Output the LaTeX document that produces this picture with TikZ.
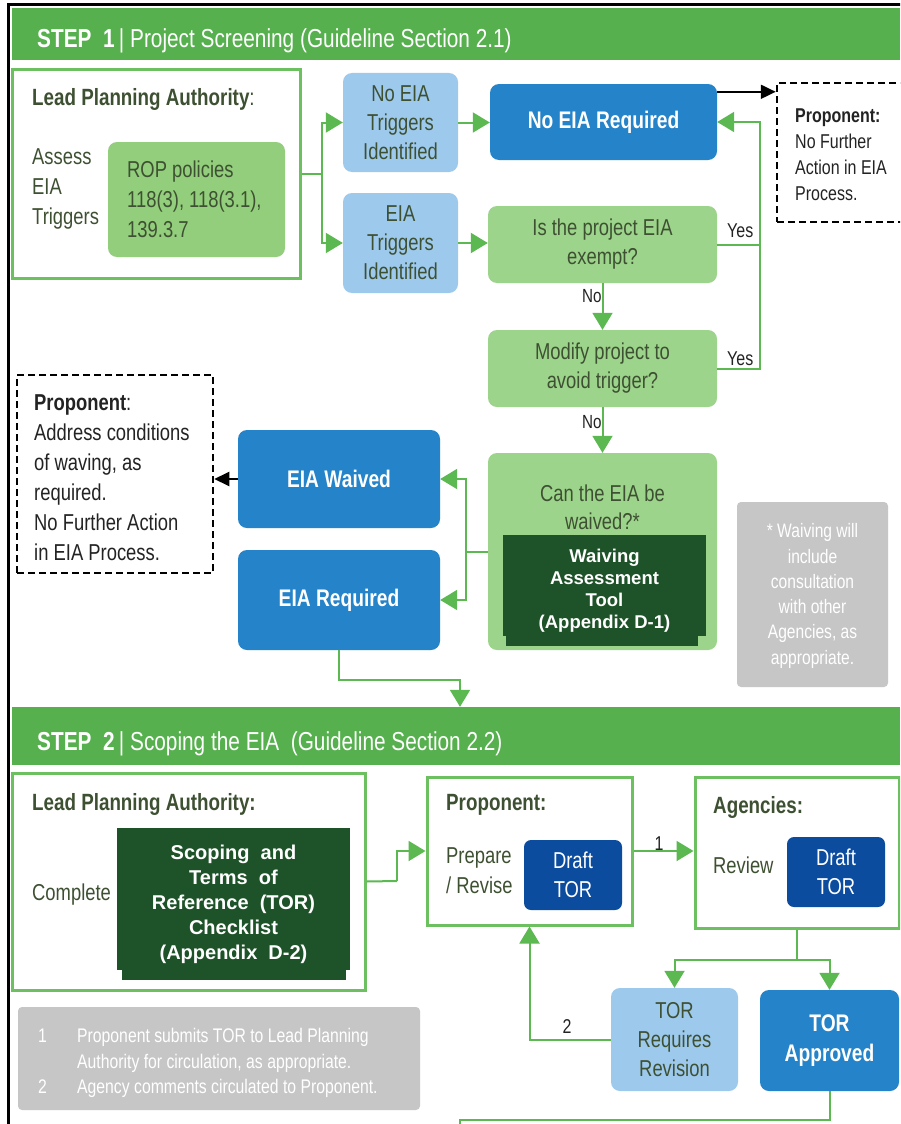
\documentclass[tikz,border=0pt]{standalone}
\usepackage{fontspec}
\setmainfont{Liberation Sans}[FakeStretch=0.8]
\newfontfamily\widefont{Liberation Sans}
\usetikzlibrary{arrows.meta,calc}
\newcommand{\fs}[2]{\fontsize{#1}{#2}\selectfont}
\definecolor{bannergreen}{RGB}{86,176,78}
\definecolor{outlinegreen}{RGB}{108,192,95}
\definecolor{conngreen}{RGB}{92,184,80}
\definecolor{lightgreen}{RGB}{157,212,139}
\definecolor{ropgreen}{RGB}{146,206,124}
\definecolor{lightblue}{RGB}{157,201,237}
\definecolor{midblue}{RGB}{36,131,201}
\definecolor{darkblue}{RGB}{12,76,158}
\definecolor{darkgreen}{RGB}{30,82,40}
\definecolor{txtdark}{RGB}{62,80,50}
\definecolor{txtblack}{RGB}{35,35,35}
\definecolor{notegray}{RGB}{198,198,198}
\tikzset{
  bx/.style={rounded corners=9pt, inner sep=0pt, align=center},
  lbbox/.style={bx, fill=lightblue, text=txtdark, font=\fs{23}{29}},
  lgbox/.style={bx, fill=lightgreen, text=txtdark, font=\fs{23}{29}},
  bluebox/.style={bx, fill=midblue, text=white, font=\fs{24}{30}\bfseries},
  dbbox/.style={bx, rounded corners=7pt, fill=darkblue, text=white, font=\fs{23}{29}},
  dgbox/.style={inner sep=0pt, align=center, fill=darkgreen, text=white},
  frame/.style={draw=outlinegreen, line width=3pt, inner sep=0pt},
  banner/.style={fill=bannergreen, inner sep=0pt, minimum width=888pt},
  bannertext/.style={text=white, font=\fs{26}{30}, inner sep=0pt},
  title/.style={text=txtdark, font=\fs{23.5}{30}\bfseries, inner sep=0pt},
  bodytxt/.style={text=txtdark, font=\fs{23}{30}, inner sep=0pt, align=left},
  dashbox/.style={draw=black, line width=2.5pt, dash pattern=on 7pt off 4pt, inner sep=0pt},
  dashtxt/.style={text=txtblack, inner sep=0pt, align=left},
  graynote/.style={fill=notegray, rounded corners=4pt, inner sep=0pt},
  notetxt/.style={text=white, inner sep=0pt},
  lbl/.style={text=txtblack, inner sep=0pt},
  gline/.style={draw=conngreen, line width=2pt},
  garrow/.style={gline, -{Triangle[length=17pt,width=20pt]}},
  barrow/.style={draw=black, line width=2pt, -{Triangle[length=15pt,width=14pt]}}
}
\begin{document}
\begin{tikzpicture}[x=1pt,y=-1pt]
\useasboundingbox (0,0) rectangle (900,1124);
\clip (0,0) rectangle (900,1124);
\fill[white] (0,0) rectangle (900,1124);
% outer frame
\draw[line width=3pt] (8,1130) -- (8,5) -- (905,5);

% ===== STEP 1 =====
\node[banner, minimum height=52pt] (b1) at (456,34) {};
\node[bannertext, anchor=base west] (b1t) at (37,48) {\textbf{STEP\ \ 1}\,|\ Project Screening (Guideline Section 2.1)};

\node[frame, minimum width=288pt, minimum height=208pt] (lpa1) at (156,174) {};
\node[title, anchor=base west] (lpa1t) at (32,105) {Lead Planning Authority\textmd{:}};
\node[bodytxt, anchor=west] (assess) at (32,189) {Assess\\EIA\\Triggers};
\node[bx, fill=ropgreen, minimum width=177pt, minimum height=115pt] (rop) at (196.5,199.5) {};
\node[bodytxt, anchor=west] (ropt) at (127,199) {ROP policies\\118(3), 118(3.1),\\139.3.7};

\node[lbbox, minimum width=115pt, minimum height=99pt] (notrig) at (400.5,122.5) {No EIA\\Triggers\\Identified};
\node[lbbox, minimum width=115pt, minimum height=100pt] (trig) at (400.5,243) {EIA\\Triggers\\Identified};

\node[bluebox, minimum width=227pt, minimum height=76pt] (noreq) at (603.5,122) {No EIA Required};
\node[lgbox, minimum width=229pt, minimum height=77pt] (exempt) at (602.5,244.5) {Is the project EIA\\exempt?};
\node[lgbox, minimum width=229pt, minimum height=77pt] (modify) at (602.5,368.5) {Modify project to\\avoid trigger?};
\node[lgbox, minimum width=229pt, minimum height=197pt] (waive) at (602.5,551.5) {};
\node[text=txtdark, font=\fs{23}{28}, align=center, inner sep=0pt] (waivet) at (602.5,507) {Can the EIA be\\waived?*};
\node[dgbox, minimum width=203pt, minimum height=111pt, font=\widefont\fs{18.5}{22}\bfseries] (tool) at (604.5,590.5) {Waiving\\Assessment\\Tool\\(Appendix D-1)};
\fill[lightgreen] (502,636) rectangle (506,647);
\fill[lightgreen] (698,636) rectangle (707,647);

\node[dashbox, minimum width=133pt, minimum height=139pt] (prop1) at (843.5,152.5) {};
\node[dashtxt, anchor=west, font=\fs{20}{26}] (prop1t) at (795,155) {\textbf{Proponent:}\\No Further\\Action in EIA\\Process.};

\node[bluebox, minimum width=202pt, minimum height=98pt] (waived) at (339,479) {EIA Waived};
\node[bluebox, minimum width=202pt, minimum height=100pt] (eiareq) at (339,600) {EIA Required};

\node[dashbox, minimum width=196pt, minimum height=198pt] (prop2) at (115,474) {};
\node[dashtxt, anchor=west, font=\fs{23}{30}] (prop2t) at (34,478) {\textbf{Proponent}:\\Address conditions\\of waving, as\\required.\\No Further Action\\in EIA Process.};

\node[graynote, minimum width=151pt, minimum height=185pt] (note1) at (812.5,594.5) {};
\node[notetxt, align=center, font=\fs{19.5}{25.3}] (note1t) at (812.5,596) {* Waiving will\\include\\consultation\\with other\\Agencies, as\\appropriate.};

% step 1 connectors
\coordinate (lj) at (322,174);
\draw[gline] (lpa1.east) -- (lj);
\draw[garrow] (lj) |- (notrig.west);
\draw[garrow] (lj) |- (trig.west);
\draw[garrow] (notrig.east) -- (notrig.east -| noreq.west);
\draw[garrow] (trig.east) -- (trig.east -| exempt.west);
\draw[barrow] ([yshift=-8pt]noreq.north east) -- ([yshift=-8pt]noreq.north east -| prop1.west);
\coordinate (yx) at (760,200);
\draw[gline] (modify.east) -- (modify.east -| yx) -- (exempt.east -| yx);
\draw[garrow] (exempt.east) -- (exempt.east -| yx) |- (noreq.east);
\node[lbl, anchor=base west, font=\fs{20}{24}] (yes1) at (727,237) {Yes};
\node[lbl, anchor=base west, font=\fs{20}{24}] (yes2) at (727,365) {Yes};
\draw[garrow] (exempt.south) -- (modify.north);
\draw[garrow] (modify.south) -- (waive.north);
\node[lbl, anchor=base west, font=\fs{19}{22}] (no1) at (582,302) {No};
\node[lbl, anchor=base west, font=\fs{19}{22}] (no2) at (582,428) {No};
\coordinate (wj) at (466,551.5);
\draw[gline] (waive.west) -- (wj);
\draw[garrow] (wj) |- (waived.east);
\draw[garrow] (wj) |- (eiareq.east);
\draw[barrow] (waived.west) -- (waived.west -| prop2.east);

% ===== STEP 2 =====
\node[banner, minimum height=58pt] (b2) at (456,736) {};
\node[bannertext, anchor=base west] (b2t) at (37,750) {\textbf{STEP\ \ 2}\,|\ Scoping the EIA\ \ (Guideline Section 2.2)};

\coordinate (rj) at (460,680);
\draw[garrow] (eiareq.south) |- (rj) -- (rj |- b2.north);

\node[frame, minimum width=353pt, minimum height=217pt] (lpa2) at (188.5,881.5) {};
\node[title, anchor=base west] (lpa2t) at (32,810) {Lead Planning Authority:};
\node[bodytxt, anchor=base west] (complete) at (32,900) {Complete};
\node[dgbox, minimum width=233pt, minimum height=152pt, font=\widefont\fs{20}{25}\bfseries] (scope) at (233.5,904) {Scoping\ \ and\\Terms\ \ of\\Reference\ \ (TOR)\\Checklist\\(Appendix\ \ D-2)};
\fill[white] (116,970) rectangle (121.5,981);
\fill[white] (346,970) rectangle (351,981);

\node[frame, minimum width=205pt, minimum height=148pt] (propb) at (529.5,851) {};
\node[title, anchor=base west] (propbt) at (446,810) {Proponent:};
\node[bodytxt, anchor=west] (prep) at (446,871) {Prepare\\/ Revise};
\node[dbbox, minimum width=98pt, minimum height=70pt] (draft1) at (573,875) {Draft\\TOR};

\node[frame, minimum width=204pt, minimum height=151pt] (agen) at (797,852.5) {};
\node[title, anchor=base west] (agent) at (713,813) {Agencies:};
\node[bodytxt, anchor=base west] (review) at (713,873) {Review};
\node[dbbox, minimum width=98pt, minimum height=70pt] (draft2) at (836,872) {Draft\\TOR};

\node[lbbox, minimum width=127pt, minimum height=103pt] (revis) at (674.5,1039.5) {TOR\\Requires\\Revision};
\node[bluebox, minimum width=139pt, minimum height=101pt] (approved) at (829.5,1040.5) {TOR\\Approved};

\node[graynote, minimum width=402pt, minimum height=103pt] (note2) at (219,1058.5) {};
\node[notetxt, anchor=west, align=left, font=\fs{19.7}{25.5}] (note2t) at (38,1063) {\makebox[39pt][l]{1}Proponent submits TOR to Lead Planning\\\hspace*{39pt}Authority for circulation, as appropriate.\\\makebox[39pt][l]{2}Agency comments circulated to Proponent.};

% step 2 connectors
\coordinate (pj) at (397,881);
\draw[gline] (lpa2.east) -- (pj);
\draw[garrow] (pj) |- (propb.west);
\draw[garrow] (propb.east) -- (propb.east -| agen.west);
\node[lbl, anchor=base, font=\fs{20}{24}] (one) at (659,850) {1};
\coordinate (aj) at (797,960);
\draw[gline] (agen.south) -- (aj);
\draw[garrow] (aj) -| (revis.north);
\draw[garrow] (aj) -| (approved.north);
\draw[garrow] (revis.west) -| (propb.south);
\node[lbl, anchor=base, font=\fs{20}{24}] (two) at (567,1033) {2};
\coordinate (apj) at (460,1120);
\coordinate (endc) at (460,1140);
\draw[gline] (approved.south) |- (apj) -- (endc);
\end{tikzpicture}
\end{document}
